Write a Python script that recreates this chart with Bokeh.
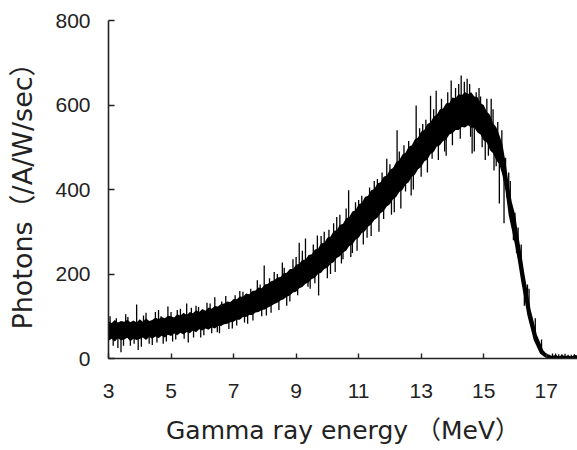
import numpy as np
from bokeh.plotting import figure
from bokeh.models import FixedTicker
from bokeh.embed import file_html
from bokeh.resources import INLINE

# Energy grid (MeV), 0.1 MeV channels
energy = np.round(np.arange(3.0, 18.0001, 0.1), 1)

# Upper edge of the noisy band (photons /A/W/sec)
upper = [
    88, 84, 91, 85, 89, 87, 92, 86, 90, 85,
    93, 87, 95, 89, 91, 97, 93, 98, 95, 101,
    100, 97, 105, 101, 108, 103, 110, 107, 114, 110,
    117, 113, 121, 118, 124, 123, 129, 130, 135, 134,
    141, 140, 147, 146, 154, 152, 160, 161, 168, 166,
    175, 177, 183, 185, 192, 193, 202, 203, 212, 212,
    222, 224, 234, 234, 245, 247, 258, 260, 272, 274,
    286, 289, 301, 304, 316, 319, 332, 335, 348, 351,
    365, 368, 382, 385, 398, 401, 414, 417, 430, 433,
    447, 451, 465, 469, 483, 487, 501, 505, 519, 523,
    537, 541, 555, 559, 573, 577, 590, 592, 604, 605,
    618, 616, 626, 623, 631, 626, 630, 620, 619, 604,
    600, 584, 577, 557, 548, 529, 507, 464, 412, 370,
    342, 294, 250, 201, 160, 116, 87, 56, 39, 20,
    12, 8, 6, 9, 5, 8, 6, 7, 5, 8, 6,
]

# Lower edge of the noisy band
lower = [
    42, 47, 40, 48, 43, 45, 49, 41, 47, 44,
    46, 50, 44, 51, 47, 52, 48, 54, 50, 56,
    53, 59, 55, 61, 57, 63, 60, 66, 62, 69,
    66, 71, 68, 74, 71, 77, 77, 81, 82, 86,
    87, 92, 92, 98, 98, 103, 103, 109, 110, 115,
    116, 121, 124, 129, 132, 137, 140, 146, 149, 156,
    158, 166, 169, 177, 180, 188, 191, 200, 203, 212,
    215, 224, 228, 238, 242, 251, 255, 266, 270, 281,
    286, 297, 301, 312, 317, 328, 333, 344, 349, 360,
    365, 377, 382, 394, 399, 412, 417, 430, 435, 448,
    453, 466, 471, 484, 489, 502, 505, 515, 518, 530,
    533, 541, 541, 548, 547, 552, 546, 546, 535, 530,
    516, 511, 493, 486, 469, 460, 434, 395, 339, 305,
    269, 229, 182, 142, 101, 73, 44, 28, 12, 6,
    1, 0, 0, 0, 0, 0, 0, 0, 0, 0, 0,
]

# Isolated noise spikes: energy (MeV) and tip value
spike_energy = [
    3.05, 3.15, 3.4, 3.55, 3.7, 3.9, 3.95, 4.05, 4.2, 4.4, 4.6, 4.75, 4.9,
    5.05, 5.3, 5.5, 5.55, 5.8, 5.95, 6.15, 6.4, 6.55, 6.75, 6.96, 7.2,
    7.45, 7.76, 7.98, 8.05, 8.3, 8.56, 8.7, 8.9, 9.1, 9.3, 9.45, 9.68,
    9.72, 9.9, 10.1, 10.3, 10.5, 10.68, 10.8, 11.0, 11.27, 11.5, 11.8,
    11.9, 12.14, 12.23, 12.5, 12.68, 12.84, 13.05, 13.3, 13.35, 13.48,
    13.8, 13.96, 14.1, 14.28, 14.47, 14.63, 14.7, 14.76, 14.9, 15.05,
    15.24, 15.33, 15.45, 15.5, 15.65, 15.7, 15.85, 15.95, 16.1, 16.3,
    16.45, 17.2, 17.4, 17.6, 17.8, 17.95,
    3.25, 3.3, 3.48, 3.62, 3.82, 4.12, 4.3, 4.5, 4.55, 4.68, 4.85, 5.0,
    5.15, 5.2, 5.42, 5.65, 5.72, 5.88, 6.05, 6.25, 6.3, 6.48, 6.62, 6.85,
    7.05, 7.1, 7.3, 7.35, 7.55, 7.62, 7.85, 7.9, 8.15, 8.2, 8.4, 8.45,
    8.62, 8.8, 9.0, 9.05, 9.2, 9.38, 9.55, 9.6, 9.8, 10.0, 10.05, 10.2,
    10.25, 10.4, 10.45, 10.6, 10.75, 10.9, 10.95, 11.1, 11.15, 11.35,
    11.4, 11.6, 11.65, 11.75, 12.0, 12.05, 12.3, 12.35, 12.45, 12.6,
    12.75, 12.95, 13.0, 13.15, 13.2, 13.4, 13.55, 13.65, 13.75, 13.85,
    14.0, 14.2, 14.25, 14.38, 14.55, 14.58, 14.85, 14.95, 15.1, 15.15,
    15.3, 15.4, 15.58, 15.75, 15.8, 16.0, 16.05, 16.2, 16.25, 16.4,
    16.55, 16.65, 16.75, 16.85, 17.1, 17.3, 17.5, 17.7, 17.9,
]
spike_value = [
    100, 30, 15, 105, 30, 128, 20, 28, 108, 32, 115, 35, 123,
    40, 118, 130, 38, 125, 50, 132, 145, 60, 148, 71, 160,
    82, 185, 220, 102, 205, 227, 125, 235, 274, 284, 165, 291,
    149, 300, 200, 335, 235, 398, 250, 375, 286, 420, 330,
    473, 346, 540, 395, 386, 599, 555, 622, 473, 634,
    480, 658, 640, 670, 662, 485, 490, 630, 620, 470,
    615, 445, 560, 367, 320, 475, 420, 280, 310, 125,
    165, 12, 10, 11, 9, 8,
    95, 25, 30, 98, 35, 102, 35, 110, 38, 100, 40, 110,
    45, 115, 47, 120, 50, 122, 55, 130, 60, 62, 135, 70,
    150, 78, 158, 85, 165, 90, 175, 100, 190, 108, 200, 115,
    215, 135, 240, 150, 255, 170, 270, 178, 290, 190, 305, 320,
    205, 340, 225, 355, 240, 370, 255, 385, 270, 405,
    290, 425, 300, 440, 460, 340, 490, 355, 505, 515,
    400, 545, 430, 565, 440, 590, 470, 615, 490, 630,
    505, 650, 520, 655, 650, 525, 640, 500, 615, 480,
    590, 455, 540, 380, 440, 345, 250, 270, 175, 175,
    80, 95, 30, 45, 9, 12, 10, 9, 10,
]

x_ticks = [3, 5, 7, 9, 11, 13, 15, 17]
y_ticks = [0, 200, 400, 600, 800]

p = figure(
    width=577, height=450,
    x_range=(3, 18), y_range=(0, 800),
    output_backend="svg", toolbar_location=None,
    min_border_left=108, min_border_right=0,
    min_border_top=20, min_border_bottom=92,
    background_fill_color="white", border_fill_color="white",
)
p.outline_line_color = None
p.xgrid.visible = False
p.ygrid.visible = False

mid = (np.array(upper) + np.array(lower)) / 2.0
spike_base = np.interp(spike_energy, energy, mid)

p.varea(x=energy, y1=lower, y2=upper, fill_color="black")
p.segment(x0=spike_energy, y0=spike_base, x1=spike_energy, y1=spike_value,
          line_color="black", line_width=1.3)

tick_font = "'Liberation Sans', 'Noto Sans CJK JP'"
title_font = "'DejaVu Sans', 'Noto Sans CJK JP'"
for ax in (p.xaxis[0], p.yaxis[0]):
    ax.axis_line_color = "#222222"
    ax.axis_line_width = 1.6
    ax.major_tick_line_color = "#222222"
    ax.major_tick_line_width = 1.4
    ax.major_tick_out = 0
    ax.minor_tick_in = 0
    ax.minor_tick_out = 0
    ax.major_label_text_font = tick_font
    ax.major_label_text_font_size = "21px"
    ax.major_label_text_color = "#222222"
    ax.axis_label_text_font = title_font
    ax.axis_label_text_font_style = "normal"
    ax.axis_label_text_color = "#222222"

p.xaxis.ticker = FixedTicker(ticks=x_ticks)
p.yaxis.ticker = FixedTicker(ticks=y_ticks)
p.xaxis.major_tick_in = 5
p.yaxis.major_tick_in = 6
p.xaxis.major_label_standoff = 25
p.yaxis.major_label_standoff = 18

p.xaxis.axis_label = "Gamma ray energy （MeV）"
p.xaxis.axis_label_text_font_size = "25px"
p.xaxis.axis_label_standoff = 15
p.yaxis.axis_label = "Photons（/A/W/sec）"
p.yaxis.axis_label_text_font_size = "27px"
p.yaxis.axis_label_standoff = 14

open("out.html", "w").write(file_html(p, INLINE))
